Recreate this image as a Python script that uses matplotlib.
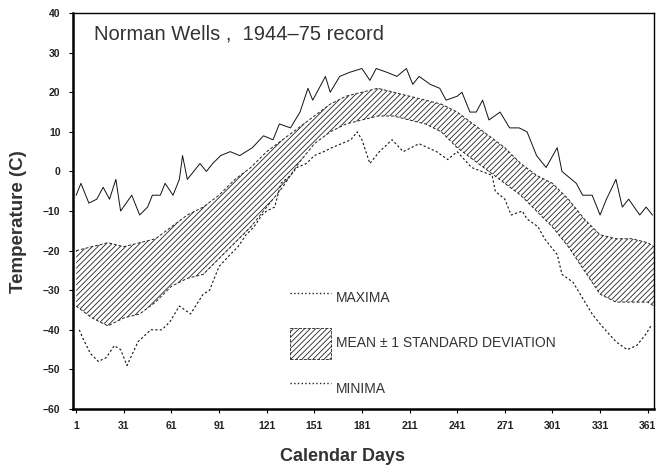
import matplotlib
matplotlib.use("Agg")
import matplotlib.pyplot as plt
from matplotlib.lines import Line2D
from matplotlib.patches import Patch

plt.rcParams['font.family'] = ['Liberation Sans', 'DejaVu Sans']
plt.rcParams['hatch.linewidth'] = 0.6

# mean +/- 1 standard deviation band (deg C)
band_days = [1, 11, 21, 31, 41, 51, 61, 71, 81, 91, 101, 111, 121, 131, 141, 151, 161, 171, 181,
             191, 201, 211, 221, 231, 241, 251, 261, 271, 281, 291, 301, 311, 321, 331, 341, 351, 361, 365]
band_upper = [-20, -19, -18, -19, -18, -17, -14, -11, -9, -6, -2, 1, 5, 8, 11, 14, 17, 19, 20,
              21, 20, 19, 18, 17, 15, 12, 9, 6, 2, -1, -3, -7, -12, -16, -17, -17, -18, -19]
band_lower = [-34, -37, -39, -37, -36, -33, -29, -27, -26, -22, -18, -14, -9, -4, 2, 7, 10, 12, 13,
              14, 14, 13, 12, 10, 6, 3, 0, -3, -6, -10, -14, -19, -25, -31, -33, -33, -33, -34]

# record maxima
max_days = [1, 4, 9, 14, 18, 22, 26, 29, 36, 41, 46, 49, 54, 57, 62, 66, 68, 71, 77, 79, 83, 87,
            92, 98, 104, 112, 119, 125, 129, 136, 142, 147, 150, 158, 161, 167, 173, 181, 186, 190,
            197, 203, 209, 213, 217, 224, 230, 234, 241, 244, 249, 253, 257, 261, 268, 274, 280,
            285, 291, 297, 304, 307, 316, 320, 326, 331, 335, 341, 345, 349, 356, 360, 364]
max_vals = [-6, -3, -8, -7, -4, -7, -2, -10, -6, -11, -9, -6, -6, -3, -6, -2, 4, -2, 1, 2, 0, 2,
            4, 5, 4, 6, 9, 8, 12, 11, 15, 21, 18, 24, 20, 24, 25, 26, 23, 26,
            25, 24, 26, 22, 24, 22, 21, 18, 19, 20, 15, 15, 18, 13, 15, 11,
            11, 10, 4, 1, 6, 0, -3, -6, -6, -11, -7, -2, -9, -7, -11, -9, -11]

# record minima
min_days = [3, 5, 10, 15, 20, 25, 29, 33, 40, 48, 55, 60, 66, 73, 81, 85, 91, 98, 103, 108, 113,
            118, 121, 126, 130, 136, 140, 146, 151, 157, 162, 168, 174, 178, 181, 186, 192, 200,
            207, 217, 228, 235, 241, 250, 263, 265, 271, 275, 282, 285, 292, 296, 300, 304, 307,
            314, 320, 326, 332, 341, 348, 354, 360, 363]
min_vals = [-40, -42, -46, -48, -47, -44, -45, -49, -43, -40, -40, -38, -34, -36, -31, -30, -24,
            -21, -19, -16, -14, -11, -10, -9, -3, -1, 1, 2, 4, 5, 6, 7, 8, 10, 8, 2, 5, 8,
            5, 7, 5, 3, 5, 1, -1, -5, -7, -11, -10, -12, -14, -17, -19, -21, -26,
            -28, -32, -36, -39, -43, -45, -44, -41, -39]

x_ticks = [1, 31, 61, 91, 121, 151, 181, 211, 241, 271, 301, 331, 361]
y_ticks = [-60, -50, -40, -30, -20, -10, 0, 10, 20, 30, 40]

fig = plt.figure(figsize=(6.6, 4.67), dpi=100)
ax = fig.add_axes([0.1106, 0.1242, 0.8804, 0.8478])

ax.fill_between(band_days, band_lower, band_upper, facecolor='white', edgecolor='#222222',
                hatch='//////', linewidth=0)
ax.plot(band_days, band_upper, color='#222222', lw=0.7, ls=(0, (3, 2)))
ax.plot(band_days, band_lower, color='#222222', lw=0.7, ls=(0, (3, 2)))

ax.plot(max_days, max_vals, color='#111111', lw=0.7)
ax.plot(min_days, min_vals, color='#111111', lw=0.8, ls=(0, (2, 2)))

ax.set_xlim(-1, 365)
ax.set_ylim(-60, 40)
ax.set_xticks(x_ticks)
ax.set_yticks(y_ticks)
ax.tick_params(direction='out', length=3, width=0.8, labelsize=7.5)
ax.tick_params(axis='x', pad=6)
ax.tick_params(axis='y', pad=6)
for lab in ax.get_xticklabels() + ax.get_yticklabels():
    lab.set_fontweight('bold')
    lab.set_color('#222222')

ax.spines['left'].set_linewidth(1.8)
ax.spines['bottom'].set_linewidth(1.8)
ax.spines['top'].set_linewidth(1.0)
ax.spines['right'].set_linewidth(1.0)

ax.set_xlabel('Calendar Days', fontsize=13, fontweight='bold', color='#333333')
ax.set_ylabel('Temperature (C)', fontsize=13.5, fontweight='bold', color='#333333')
ax.xaxis.set_label_coords(0.463, -0.098)
ax.yaxis.set_label_coords(-0.079, 0.472)

ax.text(0.037, 0.97, 'Norman Wells ,  1944\u201375 record', transform=ax.transAxes,
        fontsize=14.5, color='#333333', va='top', ha='left')

handles = [Line2D([], [], color='#222222', lw=1.0, ls=':'),
           Patch(facecolor='white', edgecolor='#222222', hatch='//////', lw=0.6, ls='--'),
           Line2D([], [], color='#222222', lw=1.0, ls=':')]
labels = ['MAXIMA', 'MEAN \u00b1 1 STANDARD DEVIATION', 'MINIMA']
ax.legend(handles, labels, loc='upper left', bbox_to_anchor=(0.373, 0.318), frameon=False,
          fontsize=10, handlelength=3.0, handleheight=3.0, labelspacing=1.05,
          handletextpad=0.3, borderpad=0, borderaxespad=0, labelcolor='#333333')

fig.savefig('out.png', dpi=100)
